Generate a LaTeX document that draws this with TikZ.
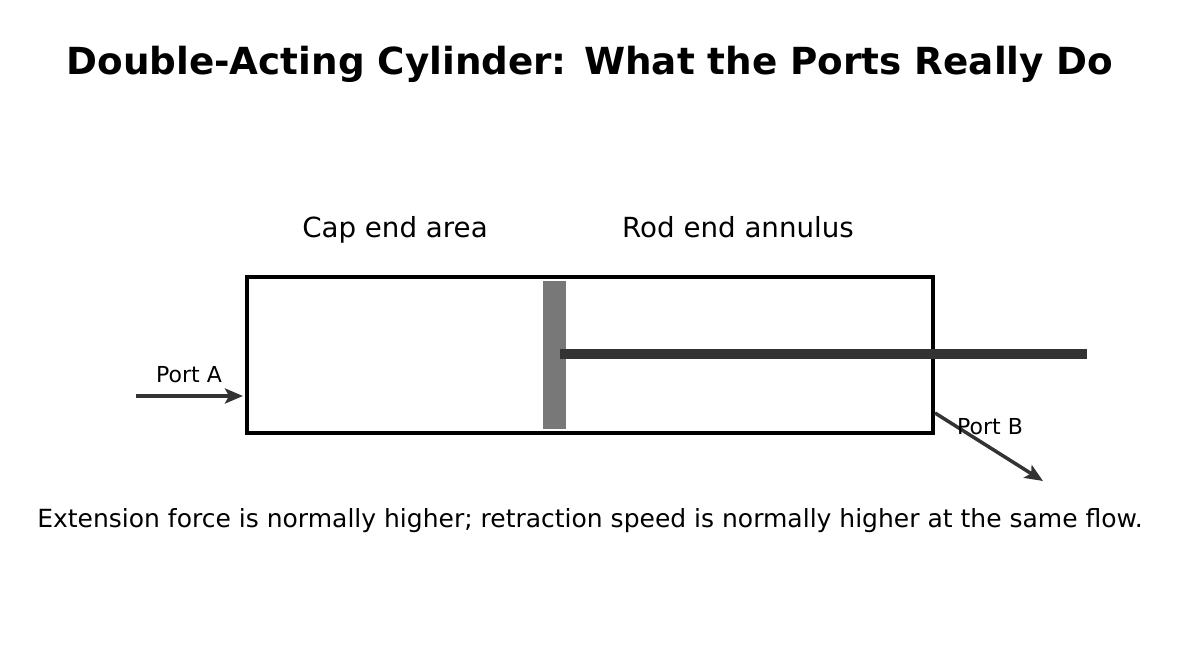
\documentclass[tikz,border=0pt]{standalone}
\usepackage{fontspec}
\setmainfont{DejaVu Sans}
\usetikzlibrary{arrows.meta}
\begin{document}
\begin{tikzpicture}[x=1pt,y=-1pt,
  lbl/.style={inner sep=0pt,anchor=base},
  conn/.style={draw=black!80,line width=3.5pt,-{Stealth[length=18pt,width=15pt,inset=4pt]}}]
\useasboundingbox (0,0) rectangle (1179,659);
\node[lbl,font=\fontsize{37.3}{40}\selectfont\bfseries] (title) at (590,74) {Double-Acting Cylinder: What the Ports Really Do};
\node[lbl,font=\fontsize{27.7}{30}\selectfont] (cap) at (395,237) {Cap end area};
\node[lbl,font=\fontsize{27.7}{30}\selectfont] (rodl) at (738,237) {Rod end annulus};
\node[draw=black,line width=4.5pt,minimum width=686pt,minimum height=156pt,inner sep=0pt] (body) at (590,355) {};
\node[fill=black!53,minimum width=23pt,minimum height=148pt,inner sep=0pt] (piston) at (554.5,355) {};
\coordinate (r1) at (560,354);
\coordinate (r2) at (1087,354);
\draw[black!80,line width=10pt] (r1) -- (r2);
\coordinate (a0) at (136,396);
\coordinate (a1) at (243,396);
\draw[conn] (a0) -- (a1);
\node[lbl,font=\fontsize{22}{24}\selectfont] (pa) at (189,382) {Port A};
\coordinate (b0) at (935,413);
\coordinate (b1) at (1043,481);
\draw[conn] (b0) -- (b1);
\node[lbl,font=\fontsize{22}{24}\selectfont] (pb) at (990,434) {Port B};
\node[lbl,font=\fontsize{25}{28}\selectfont] (note) at (590,527) {Extension force is normally higher; retraction speed is normally higher at the same flow.};
\end{tikzpicture}
\end{document}
